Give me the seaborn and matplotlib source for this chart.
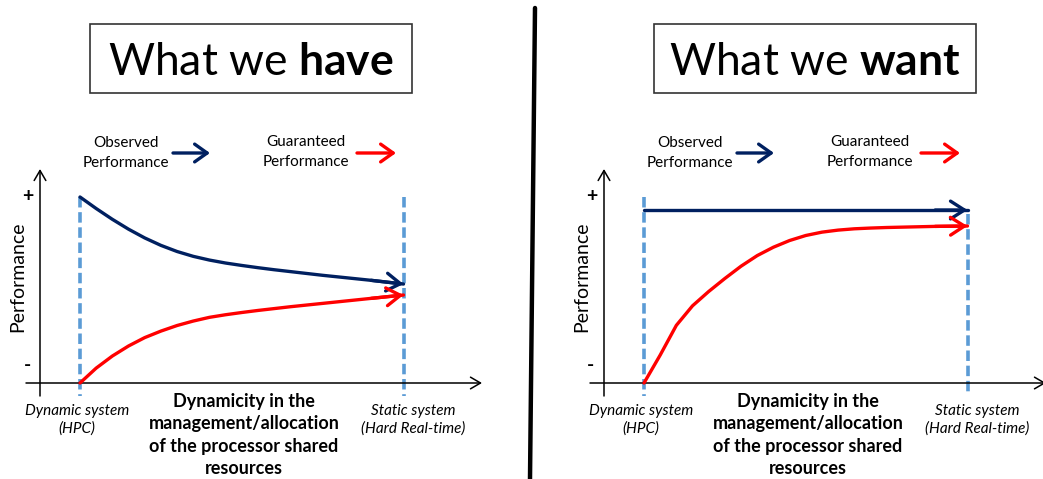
import matplotlib
matplotlib.use("Agg")
import matplotlib.pyplot as plt
import seaborn as sns
import pandas as pd
from matplotlib.patches import Rectangle
from matplotlib.lines import Line2D

sns.set_theme(style="white")
plt.rcParams['font.family'] = ['Lato', 'DejaVu Sans']
plt.rcParams['mathtext.fontset'] = 'custom'
plt.rcParams['mathtext.rm'] = 'Lato'
plt.rcParams['mathtext.bf'] = 'Lato:bold'
plt.rcParams['text.color'] = 'black'

# ---------------- data ----------------
x_grid = [0.00, 0.05, 0.10, 0.15, 0.20, 0.25, 0.30, 0.35, 0.40, 0.45, 0.50,
          0.55, 0.60, 0.65, 0.70, 0.75, 0.80, 0.85, 0.90, 0.95, 1.00]
have_observed = [1.00, 0.938, 0.880, 0.827, 0.780, 0.740, 0.707, 0.681, 0.661, 0.645, 0.632,
                 0.620, 0.609, 0.599, 0.589, 0.579, 0.570, 0.561, 0.552, 0.542, 0.532]
have_guaranteed = [0.00, 0.080, 0.145, 0.199, 0.244, 0.279, 0.309, 0.333, 0.353, 0.367, 0.379,
                   0.390, 0.400, 0.410, 0.419, 0.428, 0.437, 0.446, 0.455, 0.464, 0.473]
want_observed = [0.93, 0.93, 0.93, 0.93, 0.93, 0.93, 0.93, 0.93, 0.93, 0.93, 0.93,
                 0.93, 0.93, 0.93, 0.93, 0.93, 0.93, 0.93, 0.93, 0.93, 0.93]
want_guaranteed = [0.00, 0.150, 0.310, 0.415, 0.492, 0.562, 0.628, 0.685, 0.730, 0.766, 0.793,
                   0.811, 0.822, 0.829, 0.833, 0.836, 0.838, 0.840, 0.842, 0.843, 0.844]

panel_titles = ["What we $\\mathbf{have}$", "What we $\\mathbf{want}$"]
legend_labels = ["Observed\nPerformance", "Guaranteed\nPerformance"]
y_axis_title = "Performance"
x_axis_title = "Dynamicity in the\nmanagement/allocation\nof the processor shared\nresources"
x_start_label = "Dynamic system\n(HPC)"
x_end_label = "Static system\n(Hard Real-time)"

NAVY = "#002060"
RED = "#FF0000"
DASH = "#5B9BD5"

W, H = 1043, 479
fig = plt.figure(figsize=(W / 100, H / 100), dpi=100)
fig.patch.set_facecolor("white")


def panel(px_left, px_right, dx, observed, guaranteed, title, right_dash_top):
    ax = fig.add_axes([px_left / W, 0, (px_right - px_left) / W, 1])
    x0 = 80 + dx
    span = 323.5
    X = lambda px: (px + dx - x0) / span
    Y = lambda py: (383 - py) / 186.0

    df = pd.DataFrame({"x": x_grid, "obs": observed, "gua": guaranteed})
    sns.lineplot(data=df, x="x", y="obs", ax=ax, color=NAVY, linewidth=2.4,
                 estimator=None, sort=False, zorder=4)
    sns.lineplot(data=df, x="x", y="gua", ax=ax, color=RED, linewidth=2.4,
                 estimator=None, sort=False, zorder=4)
    for ser, c in ((observed, NAVY), (guaranteed, RED)):
        ax.annotate("", xy=(x_grid[-1], ser[-1]), xytext=(x_grid[-3], ser[-3]),
                    arrowprops=dict(arrowstyle="->,head_length=0.5,head_width=0.32",
                                    lw=2.4, color=c, mutation_scale=20,
                                    shrinkA=0, shrinkB=0), zorder=5)

    ax.set_xlim((px_left - x0) / span, (px_right - x0) / span)
    ax.set_ylim((383 - 479) / 186.0, 383 / 186.0)
    ax.set_axis_off()

    # dashed reference lines
    ax.plot([0, 0], [1.0, Y(396)], color=DASH, lw=2.6, ls=(0, (2.9, 1.3)), zorder=3,
            dash_capstyle="butt")
    ax.plot([1, 1], [right_dash_top, Y(396)], color=DASH, lw=2.6, ls=(0, (2.9, 1.3)),
            zorder=3, dash_capstyle="butt")

    # axes arrows
    ax.annotate("", xy=(X(40), Y(169)), xytext=(X(40), Y(396)),
                arrowprops=dict(arrowstyle="->,head_length=0.6,head_width=0.35",
                                lw=1.1, color="black", mutation_scale=12,
                                shrinkA=0, shrinkB=0), annotation_clip=False)
    ax.annotate("", xy=(X(482), Y(383)), xytext=(X(26), Y(383)),
                arrowprops=dict(arrowstyle="->,head_length=0.6,head_width=0.35",
                                lw=1.1, color="black", mutation_scale=12,
                                shrinkA=0, shrinkB=0), annotation_clip=False)

    ax.text(X(28), Y(196), "+", fontsize=14, fontweight="bold", ha="center", va="center")
    ax.text(X(27), Y(365), "-", fontsize=14, fontweight="bold", ha="center", va="center")
    ax.text(X(18), Y(277), y_axis_title, fontsize=14, rotation=90, ha="center", va="center")

    # legend-like labels
    ax.text(X(126), Y(153), legend_labels[0], fontsize=11, ha="center", va="center",
            linespacing=1.5)
    ax.annotate("", xy=(X(210), Y(153)), xytext=(X(173), Y(153)),
                arrowprops=dict(arrowstyle="->,head_length=0.45,head_width=0.32",
                                lw=2.4, color=NAVY, mutation_scale=20,
                                shrinkA=0, shrinkB=0))
    ax.text(X(306), Y(152), legend_labels[1], fontsize=11, ha="center", va="center",
            linespacing=1.5)
    ax.annotate("", xy=(X(396), Y(153)), xytext=(X(357), Y(153)),
                arrowprops=dict(arrowstyle="->,head_length=0.45,head_width=0.32",
                                lw=2.4, color=RED, mutation_scale=20,
                                shrinkA=0, shrinkB=0))

    # bottom labels
    ax.text(X(77), Y(420), x_start_label, fontsize=11, style="italic", ha="center",
            va="center", linespacing=1.35)
    ax.text(X(413), Y(420), x_end_label, fontsize=11, style="italic", ha="center",
            va="center", linespacing=1.35)
    ax.text(X(244), Y(435), x_axis_title, fontsize=13, fontweight="bold", ha="center",
            va="center", linespacing=1.4)

    # title box
    ax.add_patch(Rectangle((X(90), Y(93)), X(412) - X(90), Y(24) - Y(93), fill=False,
                           edgecolor="#333333", lw=1.2, clip_on=False))
    ax.text(X(251), Y(75), title, fontsize=32, ha="center", va="baseline")
    return ax


panel(0, 521, 0, have_observed, have_guaranteed, panel_titles[0], 1.0)
panel(521, 1043, 564, want_observed, want_guaranteed, panel_titles[1], 0.91)

fig.add_artist(Line2D([535 / W, 530 / W], [1 - 8 / H, 0], color="black", lw=3.2,
                      transform=fig.transFigure))

fig.savefig("out.png", dpi=100, facecolor="white")
